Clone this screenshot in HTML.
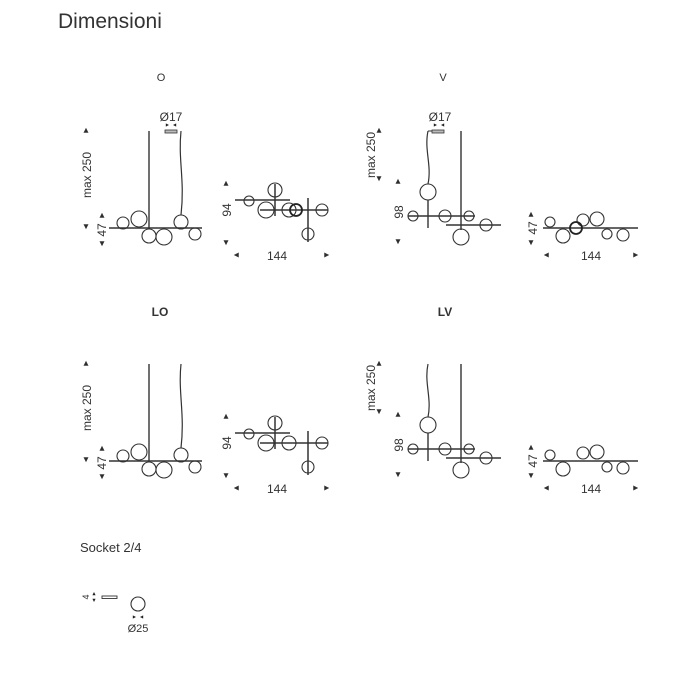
<!DOCTYPE html>
<html><head><meta charset="utf-8"><style>
html,body{margin:0;padding:0;background:#fff;width:674px;height:674px;overflow:hidden}
svg{display:block}
text{font-family:"Liberation Sans",sans-serif;fill:#333}
</style></head><body>
<svg width="674" height="674" viewBox="0 0 674 674" xmlns="http://www.w3.org/2000/svg">
<defs>
<g id="up"><polygon points="0,-2 -1.6,1.2 1.6,1.2" fill="#222"/></g>
<g id="dn"><polygon points="0,2 -1.6,-1.2 1.6,-1.2" fill="#222"/></g>
<g id="lf"><polygon points="-2,0 1.2,-1.6 1.2,1.6" fill="#222"/></g>
<g id="rt"><polygon points="2,0 -1.2,-1.6 -1.2,1.6" fill="#222"/></g>

<g id="Oside" stroke="#333" fill="none" stroke-width="1.1">
  <line x1="149" y1="131" x2="149" y2="229" stroke-width="1.4"/>
  <path d="M181 131 C178 160 185 180 181 215" stroke-width="1.2"/>
  <line x1="109" y1="228" x2="202" y2="228" stroke-width="1.6"/>
  <circle cx="123" cy="223" r="6"/><circle cx="139" cy="219" r="8"/>
  <circle cx="149" cy="236" r="7"/><circle cx="164" cy="237" r="8"/>
  <circle cx="181" cy="222" r="7"/><circle cx="195" cy="234" r="6"/>
  <text x="0" y="0" transform="translate(91,175) rotate(-90)" text-anchor="middle" font-size="12" stroke="none">max 250</text>
  <use href="#up" x="86" y="131"/><use href="#dn" x="86" y="226"/>
  <text transform="translate(106,230) rotate(-90)" text-anchor="middle" font-size="12" stroke="none">47</text>
  <use href="#up" x="102" y="216"/><use href="#dn" x="102" y="243"/>
</g>
<g id="Oplan" stroke="#333" fill="none" stroke-width="1.1">
  <line x1="235" y1="200" x2="290" y2="200" stroke-width="1.5"/>
  <line x1="260" y1="210" x2="328" y2="210" stroke-width="1.5"/>
  <line x1="275" y1="184" x2="275" y2="216" stroke-width="1.5"/>
  <line x1="308" y1="198" x2="308" y2="242" stroke-width="1.5"/>
  <circle cx="249" cy="201" r="5"/><circle cx="275" cy="190" r="7"/>
  <circle cx="266" cy="210" r="8"/><circle cx="289" cy="210" r="7"/>
  <circle cx="322" cy="210" r="6"/><circle cx="308" cy="234" r="6"/>
  <text transform="translate(231,210) rotate(-90)" text-anchor="middle" font-size="12" stroke="none">94</text>
  <use href="#up" x="226" y="184"/><use href="#dn" x="226" y="242"/>
  <text x="277" y="260" text-anchor="middle" font-size="12" stroke="none">144</text>
  <use href="#lf" x="237" y="255"/><use href="#rt" x="326" y="255"/>
</g>
<g id="Vside" stroke="#333" fill="none" stroke-width="1.1">
  <path d="M428 131 C424 150 432 165 428 184" stroke-width="1.2"/>
  <line x1="428" y1="200" x2="428" y2="228" stroke-width="1.4"/>
  <circle cx="428" cy="192" r="8"/>
  <line x1="461" y1="131" x2="461" y2="230" stroke-width="1.4"/>
  <circle cx="461" cy="237" r="8"/>
  <line x1="408" y1="216" x2="475" y2="216" stroke-width="1.6"/>
  <line x1="446" y1="225" x2="501" y2="225" stroke-width="1.6"/>
  <circle cx="413" cy="216" r="5"/><circle cx="445" cy="216" r="6"/>
  <circle cx="469" cy="216" r="5"/><circle cx="486" cy="225" r="6"/>
  <text transform="translate(375,155) rotate(-90)" text-anchor="middle" font-size="12" stroke="none">max 250</text>
  <use href="#up" x="379" y="131"/><use href="#dn" x="379" y="178"/>
  <text transform="translate(403,212) rotate(-90)" text-anchor="middle" font-size="12" stroke="none">98</text>
  <use href="#up" x="398" y="182"/><use href="#dn" x="398" y="241"/>
</g>
<g id="Vplan" stroke="#333" fill="none" stroke-width="1.1">
  <line x1="543" y1="228" x2="638" y2="228" stroke-width="1.6"/>
  <circle cx="550" cy="222" r="5"/><circle cx="563" cy="236" r="7"/>
  <circle cx="583" cy="220" r="6"/><circle cx="597" cy="219" r="7"/>
  <circle cx="607" cy="234" r="5"/><circle cx="623" cy="235" r="6"/>
  <text transform="translate(537,228) rotate(-90)" text-anchor="middle" font-size="12" stroke="none">47</text>
  <use href="#up" x="531" y="215"/><use href="#dn" x="531" y="242"/>
  <text x="591" y="260" text-anchor="middle" font-size="12" stroke="none">144</text>
  <use href="#lf" x="547" y="255"/><use href="#rt" x="635" y="255"/>
</g>
</defs>

<text x="58" y="28" font-size="21" fill="#333">Dimensioni</text>
<text x="161" y="81" font-size="11" text-anchor="middle">O</text>
<text x="443" y="81" font-size="11" text-anchor="middle">V</text>
<text x="160" y="316" font-size="12" text-anchor="middle" font-weight="bold" fill="#222">LO</text>
<text x="445" y="316" font-size="12" text-anchor="middle" font-weight="bold" fill="#222">LV</text>

<use href="#Oside"/>
<rect x="165" y="130" width="12" height="3" fill="#bbb" stroke="#333" stroke-width="0.8"/>
<text x="171" y="121" font-size="12" text-anchor="middle">Ø17</text>
<use href="#rt" x="167" y="125"/><use href="#lf" x="175" y="125"/>
<use href="#Oplan"/>
<circle cx="296" cy="210" r="6" fill="none" stroke="#222" stroke-width="1.8"/>

<use href="#Vside"/>
<rect x="432" y="130" width="12" height="3" fill="#bbb" stroke="#333" stroke-width="0.8"/>
<line x1="428" y1="131" x2="432" y2="131" stroke="#333"/>
<text x="440" y="121" font-size="12" text-anchor="middle">Ø17</text>
<use href="#rt" x="435" y="125"/><use href="#lf" x="443" y="125"/>
<use href="#Vplan"/>
<circle cx="576" cy="228" r="6" fill="none" stroke="#222" stroke-width="1.8"/>

<g transform="translate(0,233)">
<use href="#Oside"/><use href="#Oplan"/>
<use href="#Vside"/><use href="#Vplan"/>
</g>

<text x="80" y="552" font-size="13" fill="#222">Socket 2/4</text>
<text transform="translate(89,597) rotate(-90)" font-size="9" text-anchor="middle">4</text>
<use href="#up" x="94" y="594"/><use href="#dn" x="94" y="600"/>
<rect x="102" y="596" width="15" height="2.5" fill="#fff" stroke="#333" stroke-width="0.9"/>
<circle cx="138" cy="604" r="7" fill="none" stroke="#333" stroke-width="1.1"/>
<use href="#rt" x="134" y="617"/><use href="#lf" x="142" y="617"/>
<text x="138" y="632" font-size="11" text-anchor="middle">Ø25</text>
</svg>
</body></html>
